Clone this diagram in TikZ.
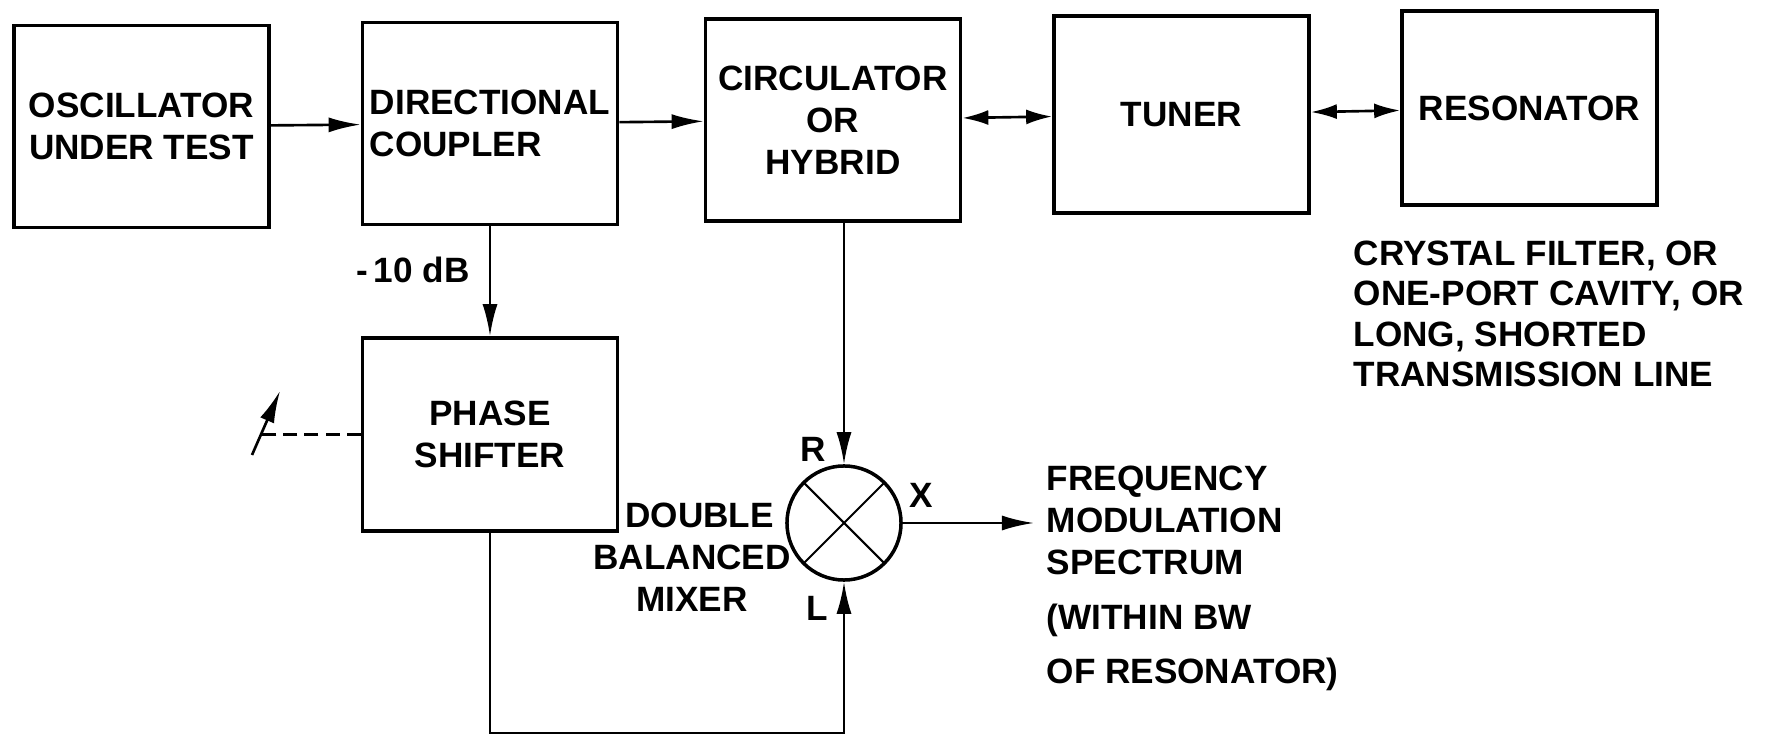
\documentclass[tikz,border=0pt]{standalone}
\usepackage{fontspec}
\setmainfont{Liberation Sans}
\usetikzlibrary{positioning,arrows.meta}

\begin{document}
\begin{tikzpicture}[x=0.01cm, y=-0.01cm,
  every node/.style={font=\fontsize{10}{12}\selectfont\bfseries},
  blk/.style={draw, line width=1pt, minimum width=2.55cm, minimum height=2.02cm, inner sep=0pt, align=center},
  mixer/.style={draw, circle, line width=1pt, minimum size=1.14cm, inner sep=0pt,
    path picture={\draw[line width=0.6pt] (path picture bounding box.north west) -- (path picture bounding box.south east)
      (path picture bounding box.south west) -- (path picture bounding box.north east);}},
  sig/.style={-{Latex[length=3.2mm,width=1.5mm]}, line width=0.75pt},
  both/.style={{Latex[length=2.6mm,width=1.5mm]}-{Latex[length=2.6mm,width=1.5mm]}, line width=0.75pt},
  ctl/.style={line width=0.75pt, dash pattern=on 4pt off 2pt},
  lab/.style={inner sep=0pt, align=left}]
\useasboundingbox (0,0) rectangle (1775,740);

\node[blk] (osc) at (141.5,126.5) {OSCILLATOR\\UNDER TEST};
\node[blk, align=left] (coupler) at (490,123.5) {DIRECTIONAL\\COUPLER};
\node[blk] (circ) at (833,120) {CIRCULATOR\\OR\\HYBRID};
\node[blk, minimum height=1.97cm] (tuner) at (1181.5,114.5) {TUNER};
\node[blk, minimum height=1.94cm] (res) at (1529.5,108) {RESONATOR};
\node[blk, minimum height=1.93cm] (phase) at (490,434.5) {PHASE\\SHIFTER};
\node[mixer] (mix) at (844,523) {};

\node[lab, align=center] (dbm) at (692,557) {\hspace*{1.5mm}DOUBLE\\BALANCED\\MIXER};
\node[lab] (rlab) at (813,449) {R};
\node[lab] (llab) at (817,608) {L};
\node[lab] (xlab) at (921,495) {X};
\node[lab] (db) at (413,270) {-\,10 dB};
\node[lab, anchor=north west] (freq) at (1046,465) {FREQUENCY\\MODULATION\\SPECTRUM\\[3.5pt](WITHIN BW\\[3.5pt]OF RESONATOR)};
\node[lab, anchor=north west, font=\fontsize{10}{11.5}\selectfont\bfseries] (note) at (1353,240)
  {CRYSTAL FILTER, OR\\ONE-PORT CAVITY, OR\\LONG, SHORTED\\TRANSMISSION LINE};

\coordinate (out) at (1034,523);
\coordinate (loop) at (490,733);
\coordinate (knob) at (261.5,434.5);
\coordinate (tiltlo) at (252,455);
\coordinate (tilthi) at (280,391);

\draw[sig] (osc) -- (coupler);
\draw[sig] (coupler) -- (circ);
\draw[both] (circ) -- (tuner);
\draw[both] (tuner) -- (res);
\draw[sig] (coupler) -- (phase);
\draw[sig] (mix.north |- circ.south) -- (mix.north);
\draw[sig] (mix) -- (out);
\draw[sig] (phase.south) -- (loop) -| (mix.south);
\draw[ctl] (phase.west) -- (knob);
\draw[sig] (tiltlo) -- (tilthi);
\end{tikzpicture}
\end{document}
